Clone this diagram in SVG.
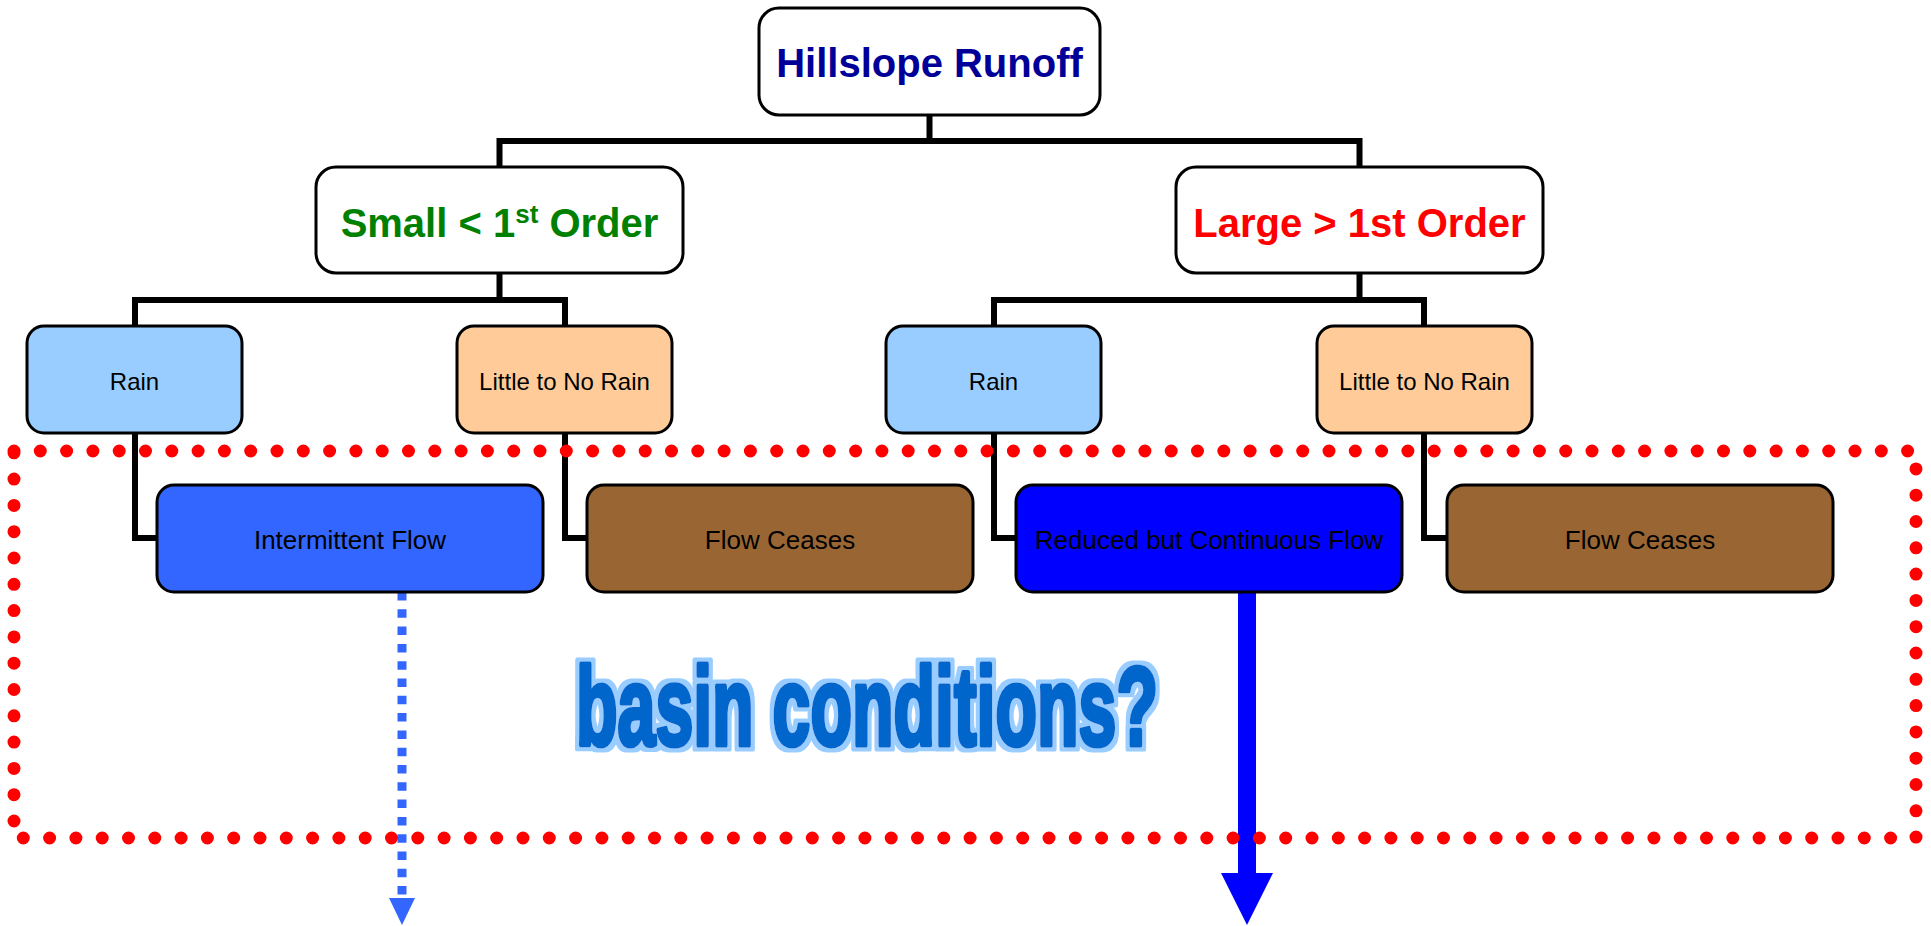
<svg xmlns="http://www.w3.org/2000/svg" width="1931" height="926" viewBox="0 0 1931 926">
  <style>
    .box { stroke: #000; stroke-width: 3; }
    .t1 { font-family: "Liberation Sans", Arial, sans-serif; font-weight: bold; font-size: 40px; text-anchor: middle; }
    .t2 { font-family: "Liberation Sans", Arial, sans-serif; font-size: 24px; text-anchor: middle; fill: #000; }
    .t3 { font-family: "Liberation Sans", Arial, sans-serif; font-size: 26px; text-anchor: middle; fill: #000; }
    .conn { fill: none; stroke: #000; stroke-width: 6; stroke-linejoin: miter; }
  </style>
  <defs>
    <filter id="outline" x="-5%" y="-15%" width="110%" height="130%">
      <feMorphology in="SourceAlpha" operator="dilate" radius="4" result="d"/>
      <feFlood flood-color="#99CCFF"/>
      <feComposite in2="d" operator="in" result="o"/>
      <feMerge><feMergeNode in="o"/><feMergeNode in="SourceGraphic"/></feMerge>
    </filter>
  </defs>
  <rect width="1931" height="926" fill="#fff"/>

  <g id="connectors">
    <path class="conn" d="M929.5 115 V141 M499.5 167 V141 H1359.5 V167"/>
    <path class="conn" d="M499.5 273 V300 M135 326 V300 H565 V326"/>
    <path class="conn" d="M1359.5 273 V300 M994 326 V300 H1424 V326"/>
    <path class="conn" d="M135 433 V538 H157"/>
    <path class="conn" d="M565 433 V538 H587"/>
    <path class="conn" d="M994 433 V538 H1016"/>
    <path class="conn" d="M1424 433 V538 H1447"/>
    <line x1="402" y1="592" x2="402" y2="899" stroke="#3366FF" stroke-width="9" stroke-dasharray="8.5 8.8"/>
    <polygon points="389,898 415,898 402,925" fill="#3366FF"/>
    <rect x="1238" y="592" width="18" height="282" fill="#0000FF"/>
    <polygon points="1221,873 1273,873 1247,925" fill="#0000FF"/>
  </g>

  <g id="region">
    <rect x="14" y="451" width="1902" height="387" fill="none" stroke="#FF0000" stroke-width="13" stroke-linecap="round" stroke-dasharray="0 26.3"/>
  </g>

  <g id="hillslope">
    <rect class="box" x="759" y="8" width="341" height="107" rx="20" fill="#fff"/>
    <text class="t1" x="929.5" y="77" fill="#000099">Hillslope Runoff</text>
  </g>
  <g id="small">
    <rect class="box" x="316" y="167" width="367" height="106" rx="20" fill="#fff"/>
    <text class="t1" x="499.5" y="237" fill="#008000">Small &lt; 1<tspan font-size="26" dy="-14">st</tspan><tspan dy="14"> Order</tspan></text>
  </g>
  <g id="large">
    <rect class="box" x="1176" y="167" width="367" height="106" rx="20" fill="#fff"/>
    <text class="t1" x="1359.5" y="237" fill="#FF0000">Large &gt; 1st Order</text>
  </g>

  <g id="rain-small">
    <rect class="box" x="27" y="326" width="215" height="107" rx="17" fill="#99CCFF"/>
    <text class="t2" x="134.5" y="390">Rain</text>
  </g>
  <g id="norain-small">
    <rect class="box" x="457" y="326" width="215" height="107" rx="17" fill="#FFCC99"/>
    <text class="t2" x="564.5" y="390">Little to No Rain</text>
  </g>
  <g id="rain-large">
    <rect class="box" x="886" y="326" width="215" height="107" rx="17" fill="#99CCFF"/>
    <text class="t2" x="993.5" y="390">Rain</text>
  </g>
  <g id="norain-large">
    <rect class="box" x="1317" y="326" width="215" height="107" rx="17" fill="#FFCC99"/>
    <text class="t2" x="1424.5" y="390">Little to No Rain</text>
  </g>

  <g id="intermittent">
    <rect class="box" x="157" y="485" width="386" height="107" rx="17" fill="#3366FF"/>
    <text class="t3" x="350" y="549">Intermittent Flow</text>
  </g>
  <g id="ceases-small">
    <rect class="box" x="587" y="485" width="386" height="107" rx="17" fill="#996633"/>
    <text class="t3" x="780" y="549">Flow Ceases</text>
  </g>
  <g id="continuous">
    <rect class="box" x="1016" y="485" width="386" height="107" rx="17" fill="#0000FF"/>
    <text class="t3" x="1209" y="549">Reduced but Continuous Flow</text>
  </g>
  <g id="ceases-large">
    <rect class="box" x="1447" y="485" width="386" height="107" rx="17" fill="#996633"/>
    <text class="t3" x="1640" y="549">Flow Ceases</text>
  </g>

  <g id="basin-label" filter="url(#outline)">
    <text x="576" y="745" font-family="'Liberation Sans', Arial, sans-serif" font-weight="bold" font-size="112" textLength="582" lengthAdjust="spacingAndGlyphs" fill="#0066CC" stroke="#0066CC" stroke-width="5" stroke-linejoin="round">basin conditions?</text>
  </g>
</svg>
